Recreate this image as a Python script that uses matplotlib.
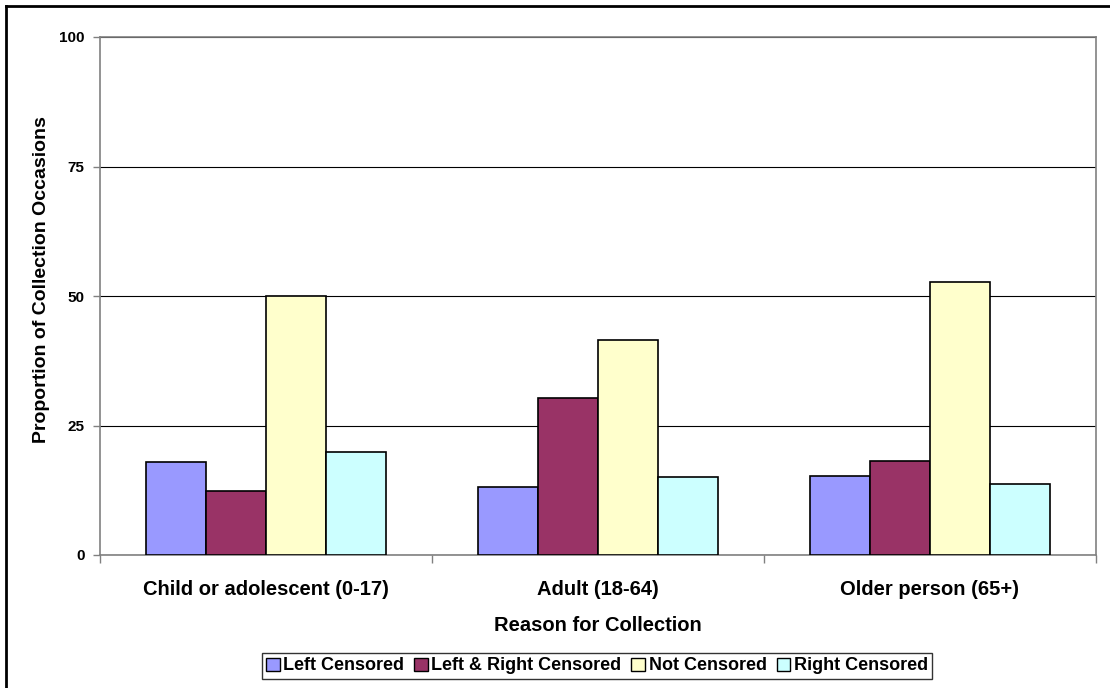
import matplotlib
matplotlib.use("Agg")
import matplotlib.pyplot as plt
import numpy as np
from matplotlib.lines import Line2D
from matplotlib.patches import Patch

categories = ["Child or adolescent (0-17)", "Adult (18-64)", "Older person (65+)"]
series_names = ["Left Censored", "Left & Right Censored", "Not Censored", "Right Censored"]
left_censored = [18.0, 13.1, 15.3]
left_right_censored = [12.3, 30.4, 18.1]
not_censored = [50.0, 41.5, 52.7]
right_censored = [19.9, 15.0, 13.8]
y_ticks = [0, 25, 50, 75, 100]

series_values = [left_censored, left_right_censored, not_censored, right_censored]
colors = ["#9999FF", "#993366", "#FFFFCC", "#CCFFFF"]

plt.rcParams['font.family'] = ['Liberation Sans', 'DejaVu Sans']
plt.rcParams['font.weight'] = 'bold'

W, H = 1110, 688
dpi = 100
fig = plt.figure(figsize=(W / dpi, H / dpi), dpi=dpi)
fig.patch.set_facecolor('white')

ax = fig.add_axes([100 / W, 1 - 555 / H, (1096 - 100) / W, (555 - 37) / H])

x = np.arange(len(categories))
bw = 60 / 332
n = len(series_values)
for i, (vals, c, name) in enumerate(zip(series_values, colors, series_names)):
    offs = (i - (n - 1) / 2) * bw
    ax.bar(x + offs, vals, width=bw, color=c, edgecolor='black', linewidth=1.2,
           label=name, zorder=3)

ax.set_xlim(-0.5, len(categories) - 0.5)
ax.set_ylim(0, 100)
ax.set_yticks(y_ticks)
ax.set_yticklabels([str(t) for t in y_ticks], fontsize=11, fontweight='bold')
ax.yaxis.grid(True, color='black', linewidth=0.8, zorder=0)
ax.set_axisbelow(True)

ax.set_xticks(np.arange(-0.5, len(categories), 1.0))
ax.set_xticklabels([])
ax.set_xticks(x, minor=True)
ax.set_xticklabels(categories, minor=True, fontsize=14.5, fontweight='bold')
ax.tick_params(axis='x', which='minor', length=0, pad=18)
ax.tick_params(axis='x', which='major', length=6, color='#808080', width=1, direction='out')
ax.tick_params(axis='y', length=5, color='#808080', width=1, direction='out', pad=6)

for s in ['left', 'bottom', 'right', 'top']:
    ax.spines[s].set_color('#808080')
    ax.spines[s].set_linewidth(1.2)

ax.set_xlabel("Reason for Collection", fontsize=14.5, fontweight='bold', labelpad=12)
ax.set_ylabel("Proportion of Collection Occasions", fontsize=14, fontweight='bold',
              va='center', ha='center')
ax.yaxis.set_label_coords((42 - 100) / 996, (555 - 280) / 518)

handles = [Patch(facecolor=c, edgecolor='black', linewidth=1.0) for c in colors]
leg = fig.legend(handles, series_names, loc='center', bbox_to_anchor=(597 / W, 1 - 666 / H),
                 ncol=4, frameon=True, fancybox=False, shadow=False,
                 prop={'size': 13, 'weight': 'bold'},
                 handlelength=0.75, handleheight=0.75, handletextpad=0.2,
                 columnspacing=0.55, borderpad=0.25, borderaxespad=0)
leg.get_frame().set_edgecolor('black')
leg.get_frame().set_linewidth(1.0)

# outer frame (left and top edges visible)
fig.add_artist(Line2D([5.5 / W, 5.5 / W], [0, 1 - 5.5 / H], transform=fig.transFigure,
                      color='black', linewidth=2))
fig.add_artist(Line2D([5.5 / W, 1], [1 - 5.5 / H, 1 - 5.5 / H], transform=fig.transFigure,
                      color='black', linewidth=2))

fig.savefig("out.png", dpi=dpi)
